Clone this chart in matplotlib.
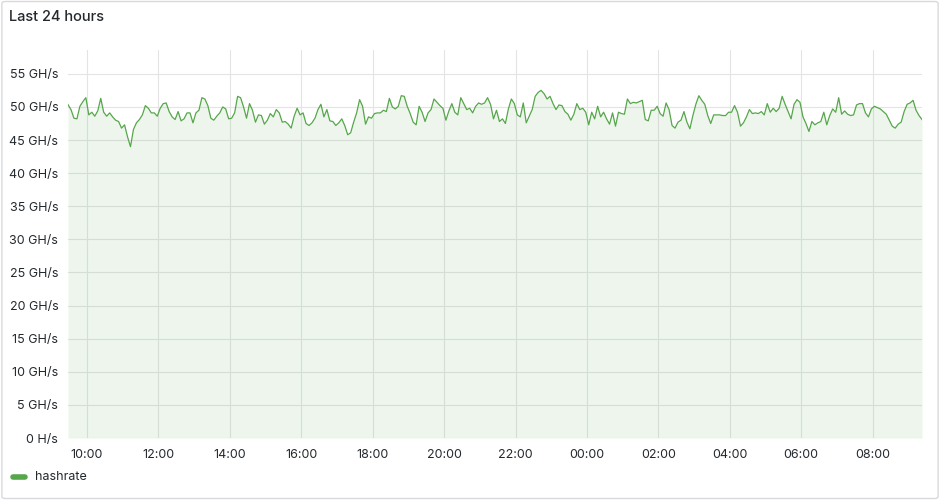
import datetime as dt

import numpy as np
import matplotlib
matplotlib.use("Agg")
import matplotlib.pyplot as plt
import matplotlib.dates as mdates
from matplotlib.patches import FancyBboxPatch
from matplotlib.ticker import FuncFormatter

plt.rcParams["font.family"] = ["Inter", "DejaVu Sans"]

# hashrate in GH/s, one sample every 5 minutes
hashrate = [
    50.35, 49.6, 48.3, 48.2, 50.1, 50.8, 51.4, 48.8, 49.2, 48.6,
    49.4, 51.3, 49.2, 48.6, 49.1, 48.5, 48.0, 47.8, 46.8, 47.3,
    45.5, 44.0, 46.6, 47.6, 48.1, 48.8, 50.2, 49.8, 49.1, 49.1,
    48.6, 49.8, 50.5, 50.6, 49.3, 48.5, 48.1, 49.3, 47.9, 48.2,
    49.1, 49.1, 47.6, 49.1, 49.5, 51.4, 51.2, 50.2, 48.3, 48.0,
    48.6, 49.1, 50.0, 49.7, 48.2, 48.3, 49.1, 51.6, 51.4, 50.0,
    48.3, 50.5, 49.5, 47.7, 48.8, 48.7, 47.4, 48.0, 49.0, 48.5,
    49.6, 49.1, 47.7, 47.8, 47.4, 46.8, 48.6, 49.8, 48.8, 49.1,
    47.5, 47.2, 47.6, 48.3, 49.6, 50.4, 48.5, 49.6, 47.9, 47.8,
    47.2, 47.6, 48.2, 47.2, 45.8, 46.1, 47.7, 49.1, 51.1, 50.1,
    47.4, 48.5, 48.3, 49.0, 49.1, 49.1, 49.5, 49.3, 51.3, 50.0,
    49.7, 50.1, 51.7, 51.6, 50.1, 49.0, 47.7, 47.3, 50.1, 49.2,
    47.8, 49.1, 49.6, 51.2, 50.7, 50.2, 49.8, 48.0, 49.4, 50.5,
    49.2, 48.8, 51.4, 50.5, 49.6, 49.8, 49.1, 50.1, 50.6, 50.4,
    50.6, 51.4, 50.4, 48.2, 49.5, 47.8, 48.2, 47.5, 49.7, 51.2,
    50.5, 48.8, 48.5, 50.6, 47.6, 48.6, 49.6, 51.6, 52.2, 52.5,
    52.0, 51.2, 51.6, 50.5, 49.6, 50.3, 50.2, 49.3, 48.9, 48.0,
    48.9, 50.5, 49.6, 49.8, 49.2, 47.3, 49.2, 48.2, 50.1, 48.5,
    49.2, 48.2, 47.4, 49.1, 47.1, 49.2, 49.0, 48.9, 51.2, 50.5,
    50.7, 50.6, 50.8, 51.0, 48.1, 47.9, 49.5, 49.5, 50.1, 49.0,
    48.6, 50.6, 49.6, 47.2, 46.8, 47.7, 48.0, 49.3, 47.7, 46.7,
    48.7, 50.4, 51.7, 51.0, 50.4, 48.7, 47.5, 48.8, 48.8, 48.8,
    48.7, 48.7, 49.2, 49.2, 50.2, 49.2, 47.1, 47.6, 48.5, 49.6,
    49.0, 49.1, 49.0, 49.3, 48.8, 50.5, 49.2, 49.8, 49.3, 49.8,
    51.6, 50.4, 49.3, 48.2, 50.4, 51.1, 50.7, 48.5, 47.5, 46.3,
    47.8, 47.3, 47.6, 47.8, 49.2, 47.3, 48.7, 49.7, 49.2, 51.4,
    48.9, 49.4, 48.9, 48.7, 48.8, 50.3, 50.5, 50.5, 49.1, 48.5,
    49.7, 50.1, 49.9, 49.7, 49.3, 48.9, 48.0, 47.1, 46.8, 47.4,
    47.7, 49.3, 50.4, 50.6, 51.0, 49.5, 48.7, 48.1,
]
start = dt.datetime(2024, 5, 1, 9, 28)
step_minutes = 5
y_ticks = [0, 5, 10, 15, 20, 25, 30, 35, 40, 45, 50, 55]
series_name = "hashrate"

times = [start + dt.timedelta(minutes=step_minutes * i) for i in range(len(hashrate))]

green = "#56a64b"
text_col = "#24292e"
grid_col = "#e4e4e4"

fig = plt.figure(figsize=(9.4, 5.0), dpi=100)
fig.patches.append(FancyBboxPatch((0.002, 0.003), 0.996, 0.994,
                                  boxstyle="round,pad=0,rounding_size=0.004",
                                  transform=fig.transFigure, fill=False,
                                  edgecolor="#d8d9dc", lw=1))
fig.text(9 / 940, 1 - 17 / 500, "Last 24 hours", fontsize=10.5,
         color=text_col, va="center", ha="left", fontweight="medium")

ax = fig.add_axes([68 / 940, 62 / 500, 854 / 940, 388 / 500])
ax.fill_between(times, hashrate, 0, color=green, alpha=0.1, lw=0)
ax.plot(times, hashrate, color=green, lw=0.9)

ax.set_xlim(times[0], times[-1])
ax.set_ylim(0, 58.6)
ax.set_yticks(y_ticks)
ax.yaxis.set_major_formatter(FuncFormatter(
    lambda v, _: "0 H/s" if v == 0 else f"{v:g} GH/s"))
ax.xaxis.set_major_locator(mdates.HourLocator(byhour=range(0, 24, 2)))
ax.xaxis.set_major_formatter(mdates.DateFormatter("%H:%M"))

ax.grid(True, color=grid_col, lw=0.8)
ax.set_axisbelow(True)
for s in ax.spines.values():
    s.set_visible(False)
ax.tick_params(length=0, labelsize=9, colors=text_col)
ax.tick_params(axis="y", pad=7)
ax.tick_params(axis="x", pad=8)

# legend
fig.lines.append(plt.Line2D([13 / 940, 25 / 940], [1 - 477 / 500] * 2,
                            transform=fig.transFigure, color=green,
                            lw=4, solid_capstyle="round"))
fig.text(35 / 940, 1 - 477 / 500, series_name, fontsize=9, color=text_col,
         va="center", ha="left")

fig.savefig("out.png", dpi=100)
